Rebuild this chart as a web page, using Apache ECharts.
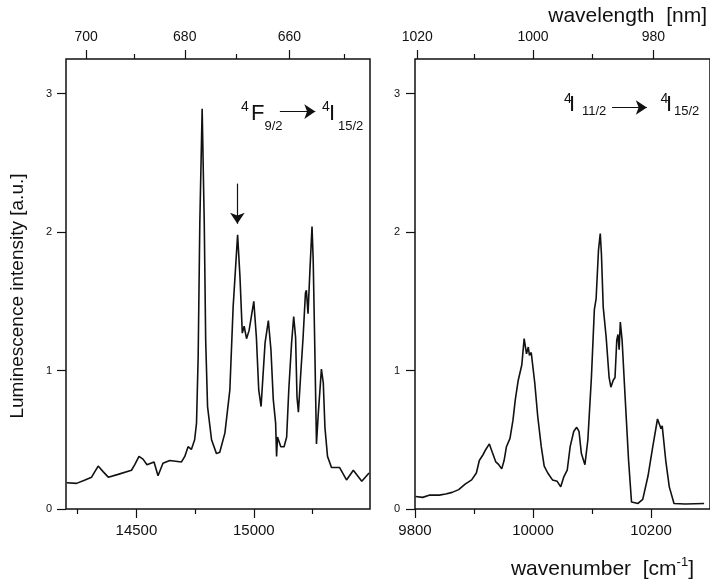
<!DOCTYPE html>
<html><head><meta charset="utf-8">
<script src="https://cdn.jsdelivr.net/npm/echarts@6/dist/echarts.min.js"></script>
<style>html,body{margin:0;padding:0;background:#fff}#c{width:710px;height:581px}</style>
</head><body><div id="c"></div>
<script>
// ---- data ----
const leftWavenumber = [14203,14245,14281,14309,14337,14358,14380,14422,14479,14493,14511,14528,14545,14575,14592,14613,14642,14692,14706,14720,14734,14748,14756,14763,14770,14780,14789,14795,14803,14820,14841,14855,14877,14898,14912,14931,14941,14951,14959,14969,14980,15000,15011,15021,15031,15048,15062,15073,15083,15093,15097,15101,15115,15129,15140,15149,15161,15170,15178,15184,15190,15199,15210,15220,15224,15231,15239,15248,15253,15260,15267,15274,15288,15296,15303,15314,15331,15365,15395,15424,15460,15491];
const leftIntensity = [0.19,0.185,0.21,0.23,0.31,0.27,0.23,0.25,0.28,0.32,0.38,0.36,0.32,0.34,0.24,0.33,0.35,0.34,0.38,0.45,0.43,0.50,0.62,1.10,2.06,2.89,2.06,1.22,0.74,0.50,0.40,0.41,0.55,0.86,1.46,1.98,1.68,1.27,1.32,1.23,1.29,1.50,1.24,0.86,0.74,1.20,1.36,1.15,0.79,0.62,0.38,0.52,0.45,0.45,0.52,0.86,1.20,1.39,1.24,0.81,0.70,0.95,1.24,1.56,1.58,1.41,1.72,2.04,1.80,1.15,0.47,0.67,1.01,0.91,0.59,0.38,0.30,0.30,0.21,0.28,0.20,0.26];
const rightWavenumber = [9801,9813,9824,9841,9852,9863,9874,9885,9896,9904,9909,9915,9920,9926,9931,9937,9942,9947,9951,9955,9961,9966,9970,9975,9981,9985,9989,9992,9994,9997,10003,10008,10014,10019,10025,10033,10041,10047,10052,10058,10063,10069,10074,10078,10082,10088,10093,10099,10104,10107,10111,10114,10116,10119,10124,10129,10132,10136,10139,10142,10144,10146,10148,10151,10156,10162,10167,10178,10186,10195,10203,10211,10217,10219,10225,10231,10239,10258,10290];
const rightIntensity = [0.09,0.084,0.10,0.10,0.108,0.12,0.14,0.18,0.21,0.26,0.35,0.39,0.43,0.47,0.41,0.34,0.32,0.29,0.35,0.45,0.51,0.64,0.79,0.93,1.04,1.23,1.12,1.17,1.11,1.13,0.91,0.67,0.45,0.31,0.26,0.21,0.20,0.16,0.23,0.28,0.45,0.56,0.59,0.56,0.40,0.32,0.50,0.95,1.44,1.52,1.87,1.99,1.84,1.46,1.24,0.95,0.88,0.93,0.95,1.22,1.26,1.15,1.35,1.22,0.82,0.35,0.05,0.04,0.07,0.24,0.45,0.65,0.58,0.60,0.35,0.16,0.04,0.036,0.04];

const leftBottomMajor = [14500, 15000];
const leftBottomMinor = [14250, 14750, 15250];
const leftTopMajorNm = [700, 680, 660];
const leftTopMinorNm = [690, 670, 650];
const rightBottomMajor = [9800, 10000, 10200];
const rightBottomMinor = [9900, 10100];
const rightTopMajorNm = [1020, 1000, 980];
const rightTopMinorNm = [1010, 990];
const yTicks = [0, 1, 2, 3];

// ---- build ----
const FONT = 'Liberation Sans, Arial, sans-serif';
const INK = '#111';
const toWn = nm => 1e7 / nm;
const pairs = (xs, ys) => xs.map((x, i) => [x, ys[i]]);

function xAxis(grid, pos, min, max, values, tickLen, label) {
  return {
    type: 'value', gridIndex: grid, position: pos, min: min, max: max,
    axisLine: { show: false, onZero: false },
    splitLine: { show: false },
    axisTick: { show: true, inside: false, length: tickLen, customValues: values,
                lineStyle: { color: INK, width: 1.2 } },
    axisLabel: label ? Object.assign({ show: true, customValues: values, color: INK,
                fontFamily: FONT, formatter: v => String(Math.round(v)) }, label) : { show: false }
  };
}
const wnFmt = v => String(Math.round(1e7 / v));

const L = [14200, 15495], R = [9800, 10300];
const xAxes = [
  xAxis(0, 'bottom', L[0], L[1], leftBottomMajor, 9, { fontSize: 15, margin: 14 }),
  xAxis(0, 'bottom', L[0], L[1], leftBottomMinor, 5, null),
  xAxis(0, 'top', L[0], L[1], leftTopMajorNm.map(toWn), 9, { fontSize: 14, margin: 15, formatter: wnFmt }),
  xAxis(0, 'top', L[0], L[1], leftTopMinorNm.map(toWn), 5, null),
  xAxis(1, 'bottom', R[0], R[1], rightBottomMajor, 9, { fontSize: 15, margin: 14 }),
  xAxis(1, 'bottom', R[0], R[1], rightBottomMinor, 5, null),
  xAxis(1, 'top', R[0], R[1], rightTopMajorNm.map(toWn), 9, { fontSize: 14, margin: 15, formatter: wnFmt }),
  xAxis(1, 'top', R[0], R[1], rightTopMinorNm.map(toWn), 5, null)
];
function yAxis(grid, margin) {
  return {
    type: 'value', gridIndex: grid, min: 0, max: 3.25,
    axisLine: { show: false }, splitLine: { show: false },
    axisTick: { show: true, inside: false, length: 9, customValues: yTicks,
                lineStyle: { color: INK, width: 1.2 } },
    axisLabel: { customValues: yTicks, fontSize: 11, margin: margin, color: INK, fontFamily: FONT }
  };
}

const arrowLine = {
  silent: true, animation: false,
  symbol: ['none', 'arrow'], symbolSize: 11,
  label: { show: false },
  lineStyle: { color: INK, width: 1.2, type: 'solid' },
  emphasis: { disabled: true }
};

const lineStyle = { color: INK, width: 1.6 };
const chart = echarts.init(document.getElementById('c'), null, { renderer: 'canvas' });

function txt(x, y, s, size, extra) {
  return Object.assign({ type: 'text', x: x, y: y, silent: true,
    style: { text: s, fontSize: size, fontFamily: FONT, fill: INK,
             textAlign: 'left', textVerticalAlign: 'middle' } }, extra || {});
}

chart.setOption({
  animation: false,
  backgroundColor: '#fff',
  grid: [
    { left: 66, top: 59, width: 304, height: 450, show: true, borderColor: INK, borderWidth: 1.5, backgroundColor: 'transparent' },
    { left: 415, top: 59, width: 303.5, height: 450, show: true, borderColor: INK, borderWidth: 1.5, backgroundColor: 'transparent' }
  ],
  xAxis: xAxes,
  yAxis: [yAxis(0, 14), yAxis(1, 15)],
  series: [
    { type: 'line', xAxisIndex: 0, yAxisIndex: 0, data: pairs(leftWavenumber, leftIntensity),
      showSymbol: false, lineStyle: lineStyle, silent: true,
      markLine: Object.assign({}, arrowLine, { data: [
        [{ coord: [14930, 2.35] }, { coord: [14930, 2.06] }],
        [{ coord: [15111, 2.87] }, { coord: [15262, 2.87] }]
      ] }) },
    { type: 'line', xAxisIndex: 4, yAxisIndex: 1, data: pairs(rightWavenumber, rightIntensity),
      showSymbol: false, lineStyle: lineStyle, silent: true,
      markLine: Object.assign({}, arrowLine, { data: [
        [{ coord: [10134, 2.90] }, { coord: [10193, 2.90] }]
      ] }) }
  ],
  graphic: [
    txt(707, 16, 'wavelength  [nm]', 21, { style: { text: 'wavelength  [nm]', fontSize: 21, fontFamily: FONT, fill: INK, textAlign: 'right', textVerticalAlign: 'middle' } }),
    { type: 'text', x: 694, y: 569, silent: true,
      style: { text: '{a|wavenumber  [cm}{s|-1}{a|]}', fontFamily: FONT, fill: INK,
               textAlign: 'right', textVerticalAlign: 'middle',
               rich: { a: { fontSize: 21, fontFamily: FONT, fill: INK, lineHeight: 26 },
                       s: { fontSize: 13, fontFamily: FONT, fill: INK, lineHeight: 14, verticalAlign: 'top' } } } },
    { type: 'text', x: 18, y: 296, rotation: Math.PI / 2, silent: true,
      style: { text: 'Luminescence intensity [a.u.]', fontSize: 19, fontFamily: FONT, fill: INK,
               textAlign: 'center', textVerticalAlign: 'middle' } },
    // left panel transition label
    txt(241, 107, '4', 14), txt(251, 114, 'F', 22), txt(264.5, 126, '9/2', 13),
    txt(322, 107, '4', 14), txt(329, 114, 'I', 22), txt(338, 126, '15/2', 13),
    // right panel transition label
    txt(564, 99, '4', 14), txt(569, 105, 'I', 22), txt(582, 111, '11/2', 13),
    txt(660.5, 99, '4', 14), txt(666, 105, 'I', 22), txt(674, 111, '15/2', 13)
  ]
});
</script></body></html>
